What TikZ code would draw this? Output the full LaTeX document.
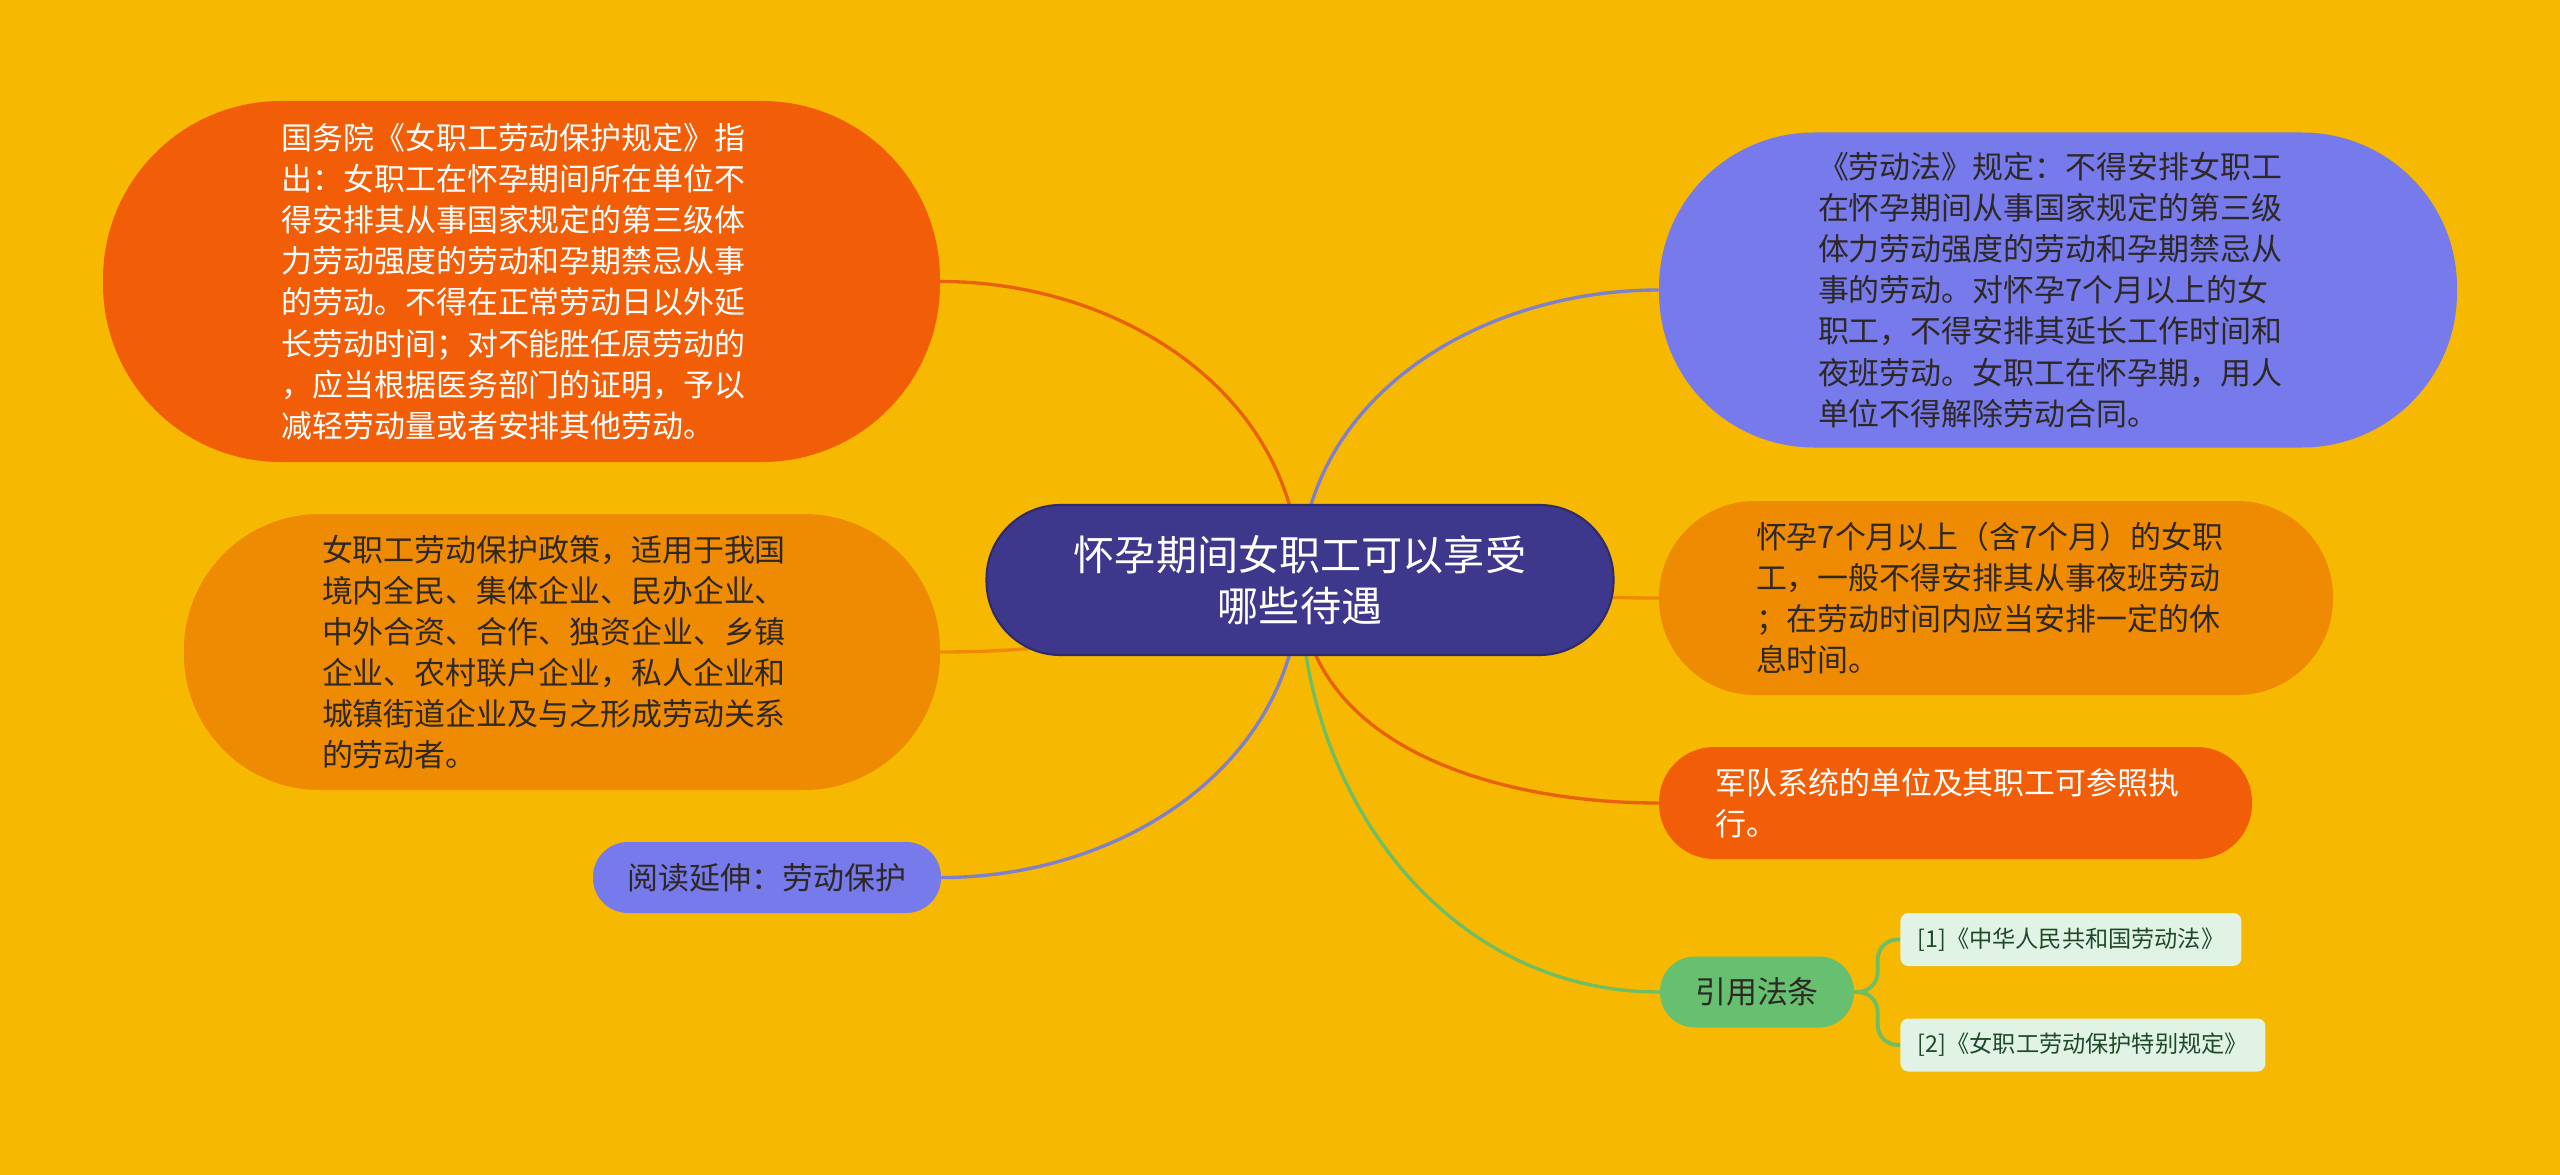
\documentclass[tikz,border=0pt]{standalone}
\usepackage{fontspec}
\newfontfamily\cjkfont{Noto Sans CJK SC}
\usetikzlibrary{positioning}
\definecolor{paperyellow}{HTML}{F6B800}
\definecolor{rootblue}{HTML}{3E388C}
\definecolor{rootedge}{HTML}{2E2A6C}
\definecolor{deeporange}{HTML}{F25E08}
\definecolor{midorange}{HTML}{EF8A03}
\definecolor{periwinkle}{HTML}{767AEA}
\definecolor{leafgreen}{HTML}{66C070}
\definecolor{refgreen}{HTML}{E0F3E4}
\definecolor{inkdark}{HTML}{2E2824}
\definecolor{refink}{HTML}{1F4A2A}
\definecolor{linkred}{HTML}{E8620E}
\definecolor{linkpurple}{HTML}{7E80CE}
\definecolor{linkgreen}{HTML}{70BE64}
\pgfdeclarelayer{paper}
\pgfdeclarelayer{links}
\pgfsetlayers{paper,links,main}
\tikzset{
  pill/.style={rectangle, rounded corners=#1, align=left, inner sep=0pt,
               text=inkdark, font=\cjkfont\fontsize{8.8pt}{11.7pt}\selectfont},
  para/.style={text width=4.80cm},
  rootblk/.style={rectangle, rounded corners=0.74cm, fill=rootblue, draw=rootedge,
                  line width=0.6pt, text=white, align=center, inner sep=0pt,
                  minimum width=6.27cm, minimum height=1.50cm,
                  font=\cjkfont\fontsize{11.7pt}{14.5pt}\selectfont},
  refblk/.style={rectangle, rounded corners=0.08cm, fill=refgreen, text=refink,
                 inner sep=0pt, minimum height=0.53cm,
                 font=\cjkfont\fontsize{6.6pt}{8pt}\selectfont},
  link/.style={line width=0.95pt, line cap=round},
  clink/.style={link, draw=linkgreen, line width=1.1pt, rounded corners=0.2cm},
}
\begin{document}
\begin{tikzpicture}
  \useasboundingbox (0,0) rectangle (25.6,-11.75);
  \begin{pgfonlayer}{paper}
    \fill[paperyellow] (0,0) rectangle (25.6,-11.75);
  \end{pgfonlayer}

  \node[rootblk] (root) at (13.00,-5.80) {怀孕期间女职工可以享受\\哪些待遇};

  % left side
  \node[pill=1.78cm, para, fill=deeporange, text=white, minimum width=8.37cm, minimum height=3.61cm]
    (gwy) at (5.215,-2.815) {国务院《女职工劳动保护规定》指\\出：女职工在怀孕期间所在单位不\\得安排其从事国家规定的第三级体\\力劳动强度的劳动和孕期禁忌从事\\的劳动。不得在正常劳动日以外延\\长劳动时间；对不能胜任原劳动的\\，应当根据医务部门的证明，予以\\减轻劳动量或者安排其他劳动。};
  \node[pill=1.36cm, para, fill=midorange, minimum width=7.56cm, minimum height=2.76cm]
    (zc) at (5.62,-6.52) {女职工劳动保护政策，适用于我国\\境内全民、集体企业、民办企业、\\中外合资、合作、独资企业、乡镇\\企业、农村联户企业，私人企业和\\城镇街道企业及与之形成劳动关系\\的劳动者。};
  \node[pill=0.35cm, fill=periwinkle, minimum width=3.48cm, minimum height=0.71cm]
    (ydyy) at (7.67,-8.775) {阅读延伸：劳动保护};

  % right side
  \node[pill=1.55cm, para, fill=periwinkle, minimum width=7.98cm, minimum height=3.15cm]
    (ldf) at (20.58,-2.90) {《劳动法》规定：不得安排女职工\\在怀孕期间从事国家规定的第三级\\体力劳动强度的劳动和孕期禁忌从\\事的劳动。对怀孕7个月以上的女\\职工，不得安排其延长工作时间和\\夜班劳动。女职工在怀孕期，用人\\单位不得解除劳动合同。};
  \node[pill=0.96cm, para, fill=midorange, minimum width=6.74cm, minimum height=1.94cm]
    (yfq) at (19.96,-5.98) {怀孕7个月以上（含7个月）的女职\\工，一般不得安排其从事夜班劳动\\；在劳动时间内应当安排一定的休\\息时间。};
  \node[pill=0.55cm, para, fill=deeporange, text=white, minimum width=5.93cm, minimum height=1.12cm]
    (jd) at (19.555,-8.03) {军队系统的单位及其职工可参照执\\行。};
  \node[pill=0.35cm, fill=leafgreen, minimum width=1.94cm, minimum height=0.71cm]
    (yyft) at (17.57,-9.92) {引用法条};
  \node[refblk, minimum width=3.41cm, right=0.45cm of yyft.east, yshift=0.525cm]
    (r1) {[1]《中华人民共和国劳动法》};
  \node[refblk, minimum width=3.65cm, right=0.45cm of yyft.east, yshift=-0.53cm]
    (r2) {[2]《女职工劳动保护特别规定》};

  \begin{pgfonlayer}{links}
    \draw[link, linkred] (root.center) to[out=90, in=0] (gwy.east);
    \draw[link, midorange] (root.center) to[out=200, in=0] (zc.east);
    \draw[link, linkpurple] (root.center) to[out=-90, in=0] (ydyy.east);
    \draw[link, linkpurple] (root.center) to[out=90, in=180] (ldf.west);
    \draw[link, midorange] (root.center) to[out=0, in=180] (yfq.west);
    \draw[link, linkred] (root.center) to[out=-90, in=180] (jd.west);
    \draw[link, linkgreen] (root.center) to[out=-90, in=180] (yyft.west);
    \draw[clink] (yyft.east) -- ++(0.23,0) |- (r1.west);
    \draw[clink] (yyft.east) -- ++(0.23,0) |- (r2.west);
  \end{pgfonlayer}
\end{tikzpicture}
\end{document}
